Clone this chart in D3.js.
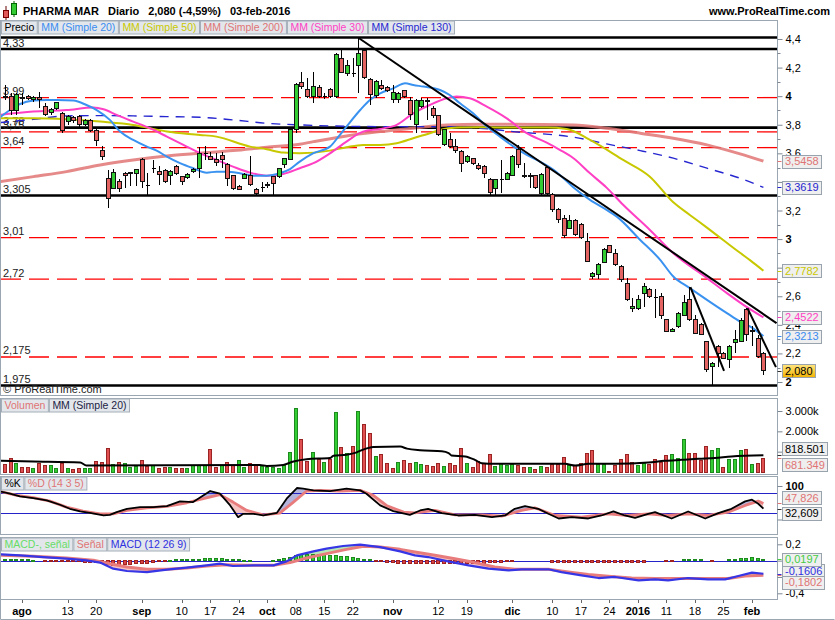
<!DOCTYPE html>
<html><head><meta charset="utf-8">
<script src="https://cdn.jsdelivr.net/npm/d3@7"></script>
<style>
html,body{margin:0;padding:0;background:#fff;}
svg{display:block;}
text{font-family:"Liberation Sans",Arial,sans-serif;}
</style></head>
<body><svg id="chart" width="835" height="620"></svg>
<script>
// ---------------- DATA ----------------
const tradingMonths = [
 ["jul",[29,30,31]],
 ["ago",[3,4,5,6,7,10,11,12,13,14,17,18,19,20,21,24,25,26,27,28,31]],
 ["sep",[1,2,3,4,7,8,9,10,11,14,15,16,17,18,21,22,23,24,25,28,29,30]],
 ["oct",[1,2,5,6,7,8,9,12,13,14,15,16,19,20,21,22,23,26,27,28,29,30]],
 ["nov",[2,3,4,5,6,9,10,11,12,13,16,17,18,19,20,23,24,25,26,27,30]],
 ["dic",[1,2,3,4,7,8,9,10,11,14,15,16,17,18,21,22,23,24,28,29,30,31]],
 ["ene",[4,5,6,7,8,11,12,13,14,15,18,19,20,21,22,25,26,27,28,29]],
 ["feb",[1,2,3]]
];
const days = tradingMonths.flatMap(([m, ds]) => ds.map(d => d + " " + m));

const tickDays   = ["3 ago","13 ago","20 ago","1 sep","10 sep","17 sep","24 sep","1 oct","8 oct","15 oct","22 oct","2 nov","12 nov","19 nov","1 dic","10 dic","17 dic","24 dic","4 ene","11 ene","18 ene","25 ene","1 feb"];
const tickLabels = ["ago","13","20","sep","10","17","24","oct","08","15","22","nov","12","19","dic","10","17","24","2016","11","18","25","feb"];

const open  = [3.99,4.00,3.90,3.99,4.00,3.98,3.99,3.93,3.885,3.915,3.88,3.82,3.85,3.86,3.80,3.83,3.76,3.62,3.426,3.356,3.40,3.46,3.46,3.46,3.554,3.38,3.50,3.47,3.48,3.445,3.51,3.437,3.43,3.47,3.496,3.605,3.58,3.554,3.584,3.52,3.444,3.367,3.426,3.444,3.35,3.367,3.38,3.437,3.437,3.52,3.56,3.766,4.097,4.048,3.996,4.06,4.00,4.05,4.00,4.265,4.16,4.165,4.214,4.32,4.118,4.008,4.078,4.062,3.98,3.974,4.038,3.973,3.80,3.93,3.97,3.915,3.864,3.66,3.694,3.647,3.61,3.54,3.566,3.518,3.51,3.42,3.356,3.42,3.42,3.442,3.63,3.444,3.44,3.444,3.32,3.50,3.31,3.204,3.146,3.076,3.13,3.10,2.983,2.74,2.75,2.836,2.955,2.90,2.81,2.69,2.512,2.512,2.62,2.65,2.594,2.598,2.435,2.353,2.388,2.465,2.575,2.44,2.40,2.283,2.108,2.248,2.20,2.155,2.276,2.283,2.505,2.35,2.307,2.20];
const high  = [4.08,4.02,4.02,4.02,4.01,4.00,4.03,3.95,3.92,3.96,3.89,3.87,3.86,3.87,3.84,3.84,3.77,3.65,3.48,3.49,3.42,3.47,3.47,3.49,3.57,3.46,3.55,3.51,3.49,3.48,3.52,3.44,3.46,3.50,3.647,3.65,3.61,3.60,3.61,3.53,3.45,3.38,3.46,3.58,3.36,3.40,3.40,3.44,3.50,3.57,3.78,4.09,4.167,4.125,4.167,4.08,4.02,4.06,4.30,4.323,4.25,4.265,4.405,4.33,4.13,4.11,4.113,4.07,4.078,4.03,4.04,3.997,3.98,3.99,3.99,3.93,3.87,3.77,3.743,3.70,3.62,3.59,3.57,3.53,3.52,3.43,3.42,3.554,3.47,3.59,3.659,3.53,3.46,3.45,3.46,3.51,3.32,3.22,3.17,3.17,3.14,3.11,3.04,2.77,2.83,2.94,2.96,2.93,2.82,2.727,2.587,2.61,2.69,2.66,2.65,2.62,2.44,2.38,2.49,2.61,2.664,2.47,2.41,2.29,2.14,2.26,2.21,2.26,2.365,2.451,2.517,2.39,2.33,2.21];
const low   = [3.97,3.87,3.87,3.94,3.97,3.96,3.92,3.86,3.87,3.90,3.74,3.80,3.81,3.77,3.79,3.75,3.65,3.55,3.22,3.35,3.33,3.36,3.37,3.37,3.36,3.30,3.46,3.38,3.39,3.38,3.45,3.38,3.42,3.46,3.426,3.55,3.55,3.51,3.50,3.37,3.34,3.34,3.42,3.37,3.31,3.33,3.36,3.31,3.43,3.50,3.55,3.74,4.05,3.99,3.955,3.99,3.98,3.99,3.99,4.16,4.14,4.136,4.02,4.12,3.938,3.99,4.04,4.03,3.95,3.95,3.99,3.834,3.74,3.92,3.834,3.85,3.72,3.65,3.64,3.60,3.472,3.53,3.52,3.48,3.43,3.31,3.31,3.32,3.41,3.44,3.50,3.426,3.356,3.35,3.31,3.31,3.19,3.11,3.01,3.07,3.02,3.00,2.84,2.72,2.72,2.83,2.90,2.81,2.70,2.57,2.493,2.505,2.528,2.59,2.447,2.44,2.35,2.35,2.38,2.46,2.43,2.34,2.33,2.073,1.98,2.108,2.16,2.097,2.20,2.28,2.29,2.25,2.17,2.05];
const close = [4.00,3.90,4.01,3.985,3.985,3.99,3.98,3.87,3.91,3.955,3.76,3.86,3.83,3.80,3.83,3.76,3.69,3.58,3.286,3.465,3.356,3.445,3.465,3.49,3.40,3.38,3.50,3.454,3.40,3.47,3.46,3.40,3.455,3.49,3.596,3.605,3.56,3.538,3.56,3.426,3.356,3.35,3.45,3.38,3.32,3.367,3.385,3.386,3.496,3.566,3.766,4.08,4.067,3.996,4.067,4.00,4.00,4.00,4.295,4.167,4.218,4.165,4.30,4.13,4.013,4.10,4.055,4.038,4.025,4.02,4.00,3.87,3.97,3.97,3.965,3.864,3.73,3.764,3.647,3.62,3.53,3.58,3.53,3.496,3.46,3.325,3.414,3.42,3.46,3.577,3.52,3.44,3.445,3.363,3.45,3.32,3.204,3.134,3.025,3.13,3.03,3.01,2.843,2.76,2.82,2.93,2.908,2.82,2.714,2.58,2.528,2.575,2.668,2.598,2.594,2.463,2.353,2.37,2.482,2.559,2.435,2.342,2.335,2.09,2.132,2.197,2.167,2.248,2.30,2.43,2.33,2.36,2.178,2.08];

// volume in thousands, and direction (1 = up / green)
const volume = [350,683,400,233,233,183,433,300,300,183,433,183,100,150,150,183,517,467,1133,350,467,433,217,267,567,267,300,183,233,233,150,150,150,300,300,300,1100,217,300,467,300,567,217,433,300,267,233,233,150,300,983,3133,1600,517,983,633,483,633,2933,1183,933,1267,2983,2317,1883,767,883,433,150,483,567,433,483,383,300,267,433,267,433,300,1150,433,217,517,400,850,267,400,300,350,300,217,217,100,267,217,350,350,717,300,300,400,933,1050,350,350,20,300,600,850,483,317,400,350,600,483,800,850,650,1600,900,933,567,1233,1050,1150,233,600,600,1050,1100,350,400,681.349];
const volumeUp = [0,0,1,0,0,1,0,0,1,1,0,1,0,0,1,1,0,0,0,1,0,1,1,1,0,0,1,0,0,1,0,0,1,1,1,1,0,0,1,0,0,1,1,0,0,1,1,1,1,1,1,1,0,0,1,0,1,0,1,0,1,0,1,0,0,1,0,0,0,1,0,0,1,1,0,0,0,1,0,0,0,1,0,0,0,0,1,1,1,1,0,0,1,0,1,0,0,0,0,1,0,0,0,0,1,1,0,0,0,0,0,1,1,0,0,0,0,1,1,1,0,0,0,0,1,1,0,1,1,1,0,1,0,0];
const volumeMA20 = [[-0.86,550],[5,517],[13.2,467],[14.3,317],[44.7,350],[45.9,300],[48.8,350],[50.6,517],[52.9,633],[57,683],[57.6,800],[59.9,850],[61.7,967],[62.8,1100],[64.6,1233],[69.3,1250],[70.5,1150],[72.8,1067],[76.6,1017],[77.8,933],[78.3,817],[80.7,767],[82.4,600],[83.6,433],[85.9,400],[98.2,400],[100,317],[102.3,400],[107,400],[112.8,467],[115.7,550],[118.7,600],[121.6,650],[124.5,683],[127.4,767],[133,818.501]];

// moving averages, read as [trading-day index, price]
const ma20  = [[-0.86,3.852],[0.89,3.903],[2.65,3.945],[5,3.969],[7.3,3.973],[9.1,3.973],[12,3.969],[14.3,3.938],[16.1,3.903],[18.4,3.834],[20.2,3.752],[22.5,3.694],[24.9,3.647],[26.6,3.619],[28.4,3.577],[30.7,3.531],[33,3.496],[35.4,3.465],[37.1,3.472],[38.9,3.472],[41.2,3.461],[43.6,3.444],[45.9,3.444],[48.2,3.461],[50,3.49],[51.7,3.542],[54.1,3.601],[57,3.647],[58.5,3.717],[59.9,3.787],[62.3,3.903],[64,3.973],[65.8,4.02],[68.1,4.055],[70.2,4.09],[71.6,4.078],[73.4,4.067],[76.3,4.043],[78,4.008],[79.8,3.95],[82.1,3.88],[84.5,3.787],[86.8,3.717],[89.2,3.647],[91.5,3.589],[93.8,3.542],[96.2,3.484],[97.3,3.449],[99.6,3.365],[102.6,3.274],[105.5,3.204],[107.3,3.157],[111.4,2.994],[114.9,2.855],[117.2,2.738],[120.1,2.657],[123.1,2.575],[126.6,2.482],[128.9,2.423],[130.7,2.388],[133,2.3213]];
const ma30  = [[-0.86,3.869],[4.98,3.892],[10.8,3.903],[15.5,3.92],[17.3,3.908],[19.6,3.869],[22.5,3.822],[25.4,3.776],[28.4,3.717],[31.3,3.659],[34.2,3.601],[37.1,3.554],[40,3.507],[43,3.465],[45.9,3.444],[48.8,3.456],[51.7,3.496],[54.1,3.531],[57,3.6],[59.9,3.682],[62.8,3.752],[65.8,3.771],[68.7,3.799],[71.6,3.88],[74.5,3.938],[77.5,3.985],[79.2,3.997],[81.5,3.985],[84.5,3.927],[88,3.845],[91.5,3.741],[95,3.675],[97.3,3.625],[99.7,3.566],[102.6,3.46],[105.5,3.36],[108.4,3.24],[113.1,3.064],[117.2,2.901],[123.1,2.727],[126.6,2.622],[129.5,2.54],[133,2.4522]];
const ma50  = [[-0.86,3.845],[5,3.845],[10.8,3.838],[16.7,3.822],[22.5,3.799],[25.4,3.776],[28.4,3.752],[34.2,3.729],[37.1,3.717],[43,3.647],[45.9,3.629],[48.8,3.605],[51.7,3.601],[57,3.619],[59.9,3.643],[62.8,3.659],[65.8,3.659],[68.7,3.671],[71.6,3.706],[74.5,3.741],[76.3,3.764],[79.8,3.78],[83.3,3.783],[89.1,3.78],[95,3.78],[98.5,3.771],[102.6,3.694],[108.4,3.554],[113.1,3.437],[117.2,3.257],[120.1,3.169],[123.1,3.08],[126,2.992],[128.9,2.904],[130.7,2.851],[133,2.7782]];
const ma130 = [[-0.86,3.815],[5,3.838],[10.8,3.862],[16.7,3.864],[22.5,3.862],[28.4,3.857],[34.2,3.852],[40,3.834],[45.9,3.81],[51.7,3.799],[65.8,3.787],[74.5,3.787],[83.3,3.776],[89.1,3.752],[99.7,3.713],[105.5,3.666],[111.4,3.619],[117.2,3.566],[123.1,3.496],[128.9,3.426],[133,3.3619]];
const ma200 = [[-0.86,3.402],[5,3.437],[10.8,3.472],[16.7,3.519],[22.5,3.554],[28.4,3.582],[34.2,3.601],[40,3.619],[45.9,3.643],[51.7,3.664],[54.1,3.682],[59.9,3.722],[65.8,3.752],[71.6,3.776],[77.5,3.799],[83.3,3.804],[89.1,3.804],[99.7,3.799],[105.5,3.776],[111.4,3.741],[117.2,3.706],[123.1,3.659],[128.9,3.596],[133,3.5458]];

// horizontal levels and trend lines drawn on the price chart
const blackLevels = [4.41, 4.33, 3.78, 3.305, 1.975];
const blackLevelLabels = ["", "4,33", "3,78", "3,305", "1,975"];
const redLevels = [3.99, 3.75, 3.64, 3.01, 2.72, 2.175];
const redLevelLabels = ["3,99", "3,75", "3,64", "3,01", "2,72", "2,175"];
const trendLines = [[[62.1,4.405],[135.3,2.412]], [[120.2,2.664],[126.1,2.078]], [[130.2,2.517],[135.2,2.104]]];

// stochastic %K / %D
const stochK = [[-0.86,84],[0.89,77],[2.65,69],[4.98,64],[7.33,57],[9.66,44],[11.4,32],[13.2,24],[14.9,20],[17.3,12],[18.4,14],[19.6,22],[21.4,32],[23.7,37],[26,37],[28.4,40],[30.7,54],[33,52],[36,85],[37.7,77],[39.5,42],[40.9,7],[41.8,17],[43.6,17],[45.3,12],[47.7,20],[49.4,62],[51.2,94],[52.3,92],[54.1,87],[57,85],[59.9,92],[62.3,87],[63.4,77],[65.8,42],[68.1,25],[71,14],[72.8,27],[74.2,32],[76.6,19],[79.5,12],[82.4,14],[85.4,7],[87.7,12],[89.4,32],[91.2,40],[93.5,32],[95.3,17],[97.1,3],[99.4,7],[102.3,3],[104.6,12],[106.7,24],[108.7,12],[110.5,5],[112.8,17],[114,22],[116.9,3],[119.8,24],[122.8,3],[125.1,19],[127.4,32],[129.8,54],[131,59],[132.1,47],[133,32.609]];
const stochD = [[-0.86,84],[2.07,72],[4.98,65],[7.9,55],[10.8,37],[13.7,25],[16.7,17],[19,17],[21.4,27],[24.9,35],[28.4,39],[31.9,50],[34.8,62],[37.7,74],[40,52],[42.4,27],[45.3,14],[48.2,19],[50.6,52],[52.9,85],[55.3,87],[58.8,85],[62.3,87],[64.6,72],[66.9,42],[69.9,22],[71.9,20],[75.4,27],[78.9,14],[83.6,14],[87.1,10],[90.6,27],[92.9,35],[96.5,12],[101.1,7],[105.8,17],[109.3,12],[112.8,17],[116.3,12],[119.8,17],[123.3,12],[126.8,22],[129.8,42],[132.1,55],[133,47.826]];

// MACD (12 26 9)
const macdLine = [[-0.86,0.077],[2.65,0.065],[6.73,0.044],[10.8,0.024],[14.3,0.004],[16.7,-0.024],[19,-0.098],[21.4,-0.127],[24.9,-0.14],[28.4,-0.11],[31.9,-0.085],[35.4,-0.058],[37.7,-0.037],[40,-0.066],[43.6,-0.058],[47.1,-0.058],[49.4,-0.009],[51.2,0.065],[54.1,0.114],[56.4,0.147],[59.3,0.179],[62.3,0.196],[65.8,0.166],[69.3,0.114],[71.9,0.065],[74.2,0.044],[77.7,-0.009],[81.3,-0.058],[84.8,-0.098],[88.3,-0.119],[90.6,-0.106],[95.3,-0.106],[97.6,-0.14],[101.1,-0.18],[104.1,-0.213],[107,-0.2],[111.1,-0.241],[114,-0.229],[116.3,-0.241],[119.8,-0.213],[123.3,-0.229],[126.3,-0.229],[128.6,-0.188],[131,-0.147],[133,-0.1606]];
const signalLine = [[-0.86,0.065],[4.98,0.053],[10.8,0.032],[15.5,0.004],[18.4,-0.037],[21.4,-0.078],[24.9,-0.106],[28.4,-0.106],[31.9,-0.09],[35.4,-0.066],[38.9,-0.049],[42.4,-0.058],[47.1,-0.058],[50,-0.024],[52.9,0.032],[56.4,0.086],[59.9,0.138],[62.9,0.175],[65.8,0.166],[69.3,0.138],[71.9,0.105],[75.4,0.065],[78.9,0.024],[82.4,-0.024],[85.9,-0.078],[89.4,-0.106],[95.3,-0.106],[98.8,-0.14],[102.3,-0.171],[105.8,-0.192],[109.9,-0.213],[114,-0.22],[118.7,-0.22],[123.3,-0.22],[126.8,-0.22],[129.8,-0.188],[133,-0.1802]];
const macdHist = [0.02,0.02,0.02,0.015,0.008,0.004,0,-0.008,-0.01,-0.012,-0.014,-0.015,-0.016,-0.016,-0.018,-0.02,-0.022,-0.03,-0.05,-0.06,-0.06,-0.05,-0.045,-0.04,-0.035,-0.03,-0.02,-0.01,-0.004,0.002,0.008,0.012,0.014,0.016,0.02,0.025,0.03,0.03,0.025,0.018,0.012,0.008,0.004,0.002,0,0,0,0.004,0.012,0.024,0.04,0.06,0.07,0.08,0.08,0.075,0.07,0.062,0.06,0.055,0.05,0.04,0.032,0.02,0.012,-0.008,-0.012,-0.02,-0.025,-0.03,-0.033,-0.033,-0.033,-0.033,-0.035,-0.037,-0.038,-0.04,-0.04,-0.04,-0.04,-0.037,-0.036,-0.035,-0.033,-0.028,-0.025,-0.02,-0.012,-0.008,0,0,0,0,0,0,-0.02,-0.02,-0.02,-0.02,-0.02,-0.028,-0.028,-0.028,-0.028,-0.028,-0.028,-0.028,-0.028,-0.02,-0.02,-0.02,-0.02,0,0,0,-0.015,-0.015,0,0.012,0.012,0.012,0.012,0,-0.012,0,0,0.012,0.016,0.024,0.028,0.033,0.025,0.0197];

// ---------------- CHART ----------------
const svg = d3.select("#chart");
const defs = svg.append("defs");
const L = 0.5, R = 777.5;
const panels = { price:[20.5,395.5], vol:[398.5,474.5], sto:[476.5,534.5], macd:[537.5,599.5] };

const xS = d3.scaleLinear().domain([0, days.length-1]).range([4.9, 763.4]);
const yP = d3.scaleLinear().domain([2, 4.4]).range([382, 39]);
const yV = d3.scaleLinear().domain([0, 3000]).range([472, 411]);
const yS = d3.scaleLinear().domain([0, 100]).range([519.5, 486]);
const yM = d3.scaleLinear().domain([-0.4, 0.2]).range([593.3, 544.3]);

const comma = (v, d) => v.toFixed(d).replace(".", ",");

function makeClip(id, [t, b]) {
  defs.append("clipPath").attr("id", id).append("rect")
    .attr("x", L+0.5).attr("y", t+0.5).attr("width", R-L-1).attr("height", b-t-1);
  return `url(#${id})`;
}
const grad = defs.append("linearGradient").attr("id","gold").attr("x1",0).attr("y1",0).attr("x2",0).attr("y2",1);
grad.append("stop").attr("offset","0").attr("stop-color","#ffe680");
grad.append("stop").attr("offset","1").attr("stop-color","#f2b200");

// panel frames
Object.values(panels).forEach(([t,b]) => {
  svg.append("rect").attr("x",L).attr("y",t).attr("width",R-L).attr("height",b-t)
    .attr("fill","#fff").attr("stroke","#9aa6b2").attr("stroke-width",1);
});
svg.append("line").attr("x1",0.5).attr("x2",0.5).attr("y1",599.5).attr("y2",619.5).attr("stroke","#9aa6b2");
svg.append("line").attr("x1",0.5).attr("x2",834.5).attr("y1",619.5).attr("y2",619.5).attr("stroke","#9aa6b2");

// ---------- title ----------
svg.append("line").attr("x1",6).attr("x2",6).attr("y1",6).attr("y2",20).attr("stroke","#600");
svg.append("rect").attr("x",3.5).attr("y",10.5).attr("width",5).attr("height",7).attr("fill","#e05a5a").attr("stroke","#700");
svg.append("line").attr("x1",14).attr("x2",14).attr("y1",1).attr("y2",17).attr("stroke","#060");
svg.append("rect").attr("x",11.5).attr("y",3.5).attr("width",5).attr("height",11).attr("fill","#33cc33").attr("stroke","#060");
let tx0 = 23;
["PHARMA MAR","Diario","2,080 (-4,59%)","03-feb-2016"].forEach(t => {
  const el = svg.append("text").attr("x",tx0).attr("y",15).text(t)
    .style("font-size","11px").style("font-weight","bold").attr("fill","#000");
  tx0 += el.node().getComputedTextLength() + 9;
});
svg.append("text").attr("x",830).attr("y",15).attr("text-anchor","end").text("www.ProRealTime.com")
  .style("font-size","11px").style("font-weight","bold").attr("fill","#000");

// ---------- legends ----------
function legend(y, items) {
  let x = 1.5;
  items.forEach(([t,c]) => {
    const g = svg.append("g");
    const el = g.append("text").attr("x", x+3).attr("y", y+10).text(t).attr("fill", c).style("font-size","10.5px");
    const w = el.node().getComputedTextLength() + 6;
    g.insert("rect","text").attr("x",x).attr("y",y).attr("width",w).attr("height",13)
      .attr("fill","#e3e7ec").attr("stroke","#a4aeb8");
    x += w + 1;
  });
}

// ---------- PRICE PANEL ----------
const gP = svg.append("g").attr("clip-path", makeClip("clipP", panels.price));
redLevels.forEach(v => gP.append("line").attr("x1",1).attr("x2",R).attr("y1",yP(v)).attr("y2",yP(v))
  .attr("stroke","#ff0000").attr("stroke-width",1.3).attr("stroke-dasharray","20,8"));
blackLevels.forEach(v => gP.append("line").attr("x1",1).attr("x2",R).attr("y1",yP(v)).attr("y2",yP(v))
  .attr("stroke","#000").attr("stroke-width",2.6));
const levelLabels = blackLevels.map((v,i)=>[v,blackLevelLabels[i]]).concat(redLevels.map((v,i)=>[v,redLevelLabels[i]]));
levelLabels.filter(d=>d[1]).forEach(([v,t]) => gP.append("text").attr("x",3).attr("y",yP(v)-2.5).text(t)
  .style("font-size","11px").attr("fill","#222"));

const maLine = d3.line().x(d=>xS(d[0])).y(d=>yP(d[1])).curve(d3.curveMonotoneX);
const maDefs = [
  [ma200, "#e07474", 3.0, null, 0.85],
  [ma130, "#2626d0", 1.4, "9,7", 1],
  [ma50,  "#c8c800", 2.0, null, 1],
  [ma30,  "#ff3fc4", 2.0, null, 1],
  [ma20,  "#3a92f0", 2.0, null, 1]
];
maDefs.forEach(([pts,c,w,dash,op]) => {
  const p = gP.append("path").attr("d", maLine(pts)).attr("fill","none").attr("stroke",c)
    .attr("stroke-width",w).attr("stroke-opacity",op).attr("stroke-linejoin","round");
  if (dash) p.attr("stroke-dasharray", dash);
});

const candles = days.map((d,i)=>({i, o:open[i], h:high[i], l:low[i], c:close[i]}));
const gCand = gP.append("g").attr("shape-rendering","crispEdges");
gCand.selectAll("line").data(candles).join("line")
  .attr("x1",d=>Math.round(xS(d.i))+0.5).attr("x2",d=>Math.round(xS(d.i))+0.5)
  .attr("y1",d=>yP(d.h)).attr("y2",d=>yP(d.l)).attr("stroke","#000");
gCand.selectAll("rect").data(candles).join("rect")
  .attr("x",d=>Math.round(xS(d.i))-1.5).attr("width",4)
  .attr("y",d=>yP(Math.max(d.o,d.c)))
  .attr("height",d=>Math.max(1, Math.abs(yP(d.o)-yP(d.c))))
  .attr("fill",d=> d.c>d.o ? "#33cc33" : (d.c<d.o ? "#e46464" : "#000"))
  .attr("stroke",d=> d.c===d.o ? "none" : "#111").attr("stroke-width",1);

trendLines.forEach(seg => gP.append("line")
  .attr("x1",xS(seg[0][0])).attr("y1",yP(seg[0][1])).attr("x2",xS(seg[1][0])).attr("y2",yP(seg[1][1]))
  .attr("stroke","#000").attr("stroke-width",2));

svg.append("text").attr("x",3).attr("y",393).text("© ProRealTime.com").style("font-size","11px").attr("fill","#222");

// ---------- VOLUME PANEL ----------
const gV = svg.append("g").attr("clip-path", makeClip("clipV", panels.vol));
const volBars = volume.map((v,i)=>({i, v, up: volumeUp[i]}));
gV.append("g").attr("shape-rendering","crispEdges").selectAll("rect").data(volBars).join("rect")
  .attr("x",d=>Math.round(xS(d.i))-1.5).attr("width",3)
  .attr("y",d=>yV(d.v)).attr("height",d=>Math.max(1, yV(0)-yV(d.v)))
  .attr("fill",d=>d.up ? "#33cc33" : "#e05050")
  .attr("stroke",d=>d.up ? "#1c8a1c" : "#9a2424");
gV.append("path").attr("d", d3.line().x(d=>xS(d[0])).y(d=>yV(d[1])).curve(d3.curveMonotoneX)(volumeMA20))
  .attr("fill","none").attr("stroke","#000").attr("stroke-width",2);

// ---------- fills between two lines ----------
function diffFill(g, a, b, yScale, top, bottom, colA, colB, id) {
  const ln = d3.line().x(d=>xS(d[0])).y(d=>yScale(d[1]));
  const poly = ln(a) + ln(b.slice().reverse()).replace(/^M/,"L") + "Z";
  const above = d3.area().x(d=>xS(d[0])).y0(top).y1(d=>yScale(d[1]));
  const below = d3.area().x(d=>xS(d[0])).y0(bottom).y1(d=>yScale(d[1]));
  defs.append("clipPath").attr("id",id+"a").append("path").attr("d", above(b));
  defs.append("clipPath").attr("id",id+"b").append("path").attr("d", below(b));
  g.append("g").attr("clip-path",`url(#${id}a)`).append("path").attr("d",poly).attr("fill",colA);
  g.append("g").attr("clip-path",`url(#${id}b)`).append("path").attr("d",poly).attr("fill",colB);
}

// ---------- STOCHASTIC PANEL ----------
const gS = svg.append("g").attr("clip-path", makeClip("clipS", panels.sto));
diffFill(gS, stochK, stochD, yS, panels.sto[0], panels.sto[1], "#b3b3dc", "#f5c2c2", "sf");
[80,20].forEach(v => gS.append("line").attr("x1",1).attr("x2",R).attr("y1",Math.round(yS(v))+0.5).attr("y2",Math.round(yS(v))+0.5)
  .attr("stroke","#2323c8").attr("stroke-width",1));
const sLine = d3.line().x(d=>xS(d[0])).y(d=>yS(d[1]));
gS.append("path").attr("d", sLine(stochD)).attr("fill","none").attr("stroke","#e87c7c").attr("stroke-width",2.8).attr("stroke-linejoin","round");
gS.append("path").attr("d", sLine(stochK)).attr("fill","none").attr("stroke","#000").attr("stroke-width",1.8).attr("stroke-linejoin","round");

// ---------- MACD PANEL ----------
const gM = svg.append("g").attr("clip-path", makeClip("clipM", panels.macd));
diffFill(gM, macdLine, signalLine, yM, panels.macd[0], panels.macd[1], "#b5e8b5", "#f5c2c2", "mf");
gM.append("line").attr("x1",1).attr("x2",R).attr("y1",Math.round(yM(0))+0.5).attr("y2",Math.round(yM(0))+0.5)
  .attr("stroke","#2323c8").attr("stroke-width",1);
const histBars = macdHist.map((v,i)=>({i, v})).filter(d => d.v !== 0);
gM.append("g").attr("shape-rendering","crispEdges").selectAll("rect").data(histBars).join("rect")
  .attr("x",d=>Math.round(xS(d.i))-1.5).attr("width",3)
  .attr("y",d=>Math.min(yM(0),yM(d.v))).attr("height",d=>Math.max(1,Math.abs(yM(d.v)-yM(0))))
  .attr("fill",d=>d.v>0 ? "#33cc33" : "#d84444").attr("stroke",d=>d.v>0 ? "#1c8a1c" : "#a02020");
const mLine = d3.line().x(d=>xS(d[0])).y(d=>yM(d[1]));
gM.append("path").attr("d", mLine(signalLine)).attr("fill","none").attr("stroke","#e87c7c").attr("stroke-width",3).attr("stroke-linejoin","round");
gM.append("path").attr("d", mLine(macdLine)).attr("fill","none").attr("stroke","#3636e6").attr("stroke-width",2.2).attr("stroke-linejoin","round");

// ---------- legends ----------
legend(21, [["Precio","#000"],["MM (Simple 20)","#3a8cf0"],["MM (Simple 50)","#c8c800"],["MM (Simple 200)","#e07474"],["MM (Simple 30)","#ff3fc4"],["MM (Simple 130)","#2626d0"]]);
legend(399, [["Volumen","#e07474"],["MM (Simple 20)","#222244"]]);
legend(477, [["%K","#000"],["%D (14 3 5)","#e07474"]]);
legend(538, [["MACD-, señal","#66dd66"],["Señal","#e07474"],["MACD (12 26 9)","#3030e0"]]);

// ---------- value boxes (computed first so hidden axis labels can be skipped) ----------
const boxes = [
  [yP(3.5458), yP(3.5458), "3,5458", "#e07474"],
  [yP(3.3619), yP(3.3619), "3,3619", "#2626d0"],
  [yP(2.7782), yP(2.7782), "2,7782", "#c8c800"],
  [yP(2.4522), yP(2.4522), "2,4522", "#ff3fc4"],
  [yP(2.3213), yP(2.3213), "2,3213", "#3a8cf0"],
  [yP(2.080),  yP(2.080),  "2,080",  "#000", "url(#gold)"],
  [yV(818.501), yV(818.501)-6.5, "818.501", "#000"],
  [yV(681.349), yV(681.349)+6.5, "681.349", "#e07474"],
  [yS(47.826), yS(47.826)-5.5, "47,826", "#e07474"],
  [yS(32.609), yS(32.609)+4.5, "32,609", "#000"],
  [yM(-0.1606), yM(-0.1606)-3, "-0,1606", "#3030e0"],
  [yM(0.0197), yM(0.0197), "0,0197", "#44cc44"],
  [yM(-0.1802), yM(-0.1802)+7, "-0,1802", "#e07474"]
];
const covered = y => boxes.some(b => y > b[1]-7 && y < b[1]+7);

// ---------- right axes ----------
function rightAxis(scale, majors, minors, fmt, boldFn, top, bottom) {
  svg.append("line").attr("x1",R).attr("x2",R).attr("y1",top).attr("y2",bottom).attr("stroke","#9aa6b2");
  const g = svg.append("g").attr("transform",`translate(${R},0)`)
    .call(d3.axisRight(scale).tickValues(majors).tickSize(5).tickPadding(3).tickFormat(fmt));
  g.select(".domain").remove();
  g.selectAll(".tick line").attr("stroke","#7d8893");
  g.selectAll(".tick text").style("font-size","11px").style("font-family",'"Liberation Sans",Arial,sans-serif')
    .attr("fill","#000").style("font-weight", d => boldFn(d) ? "bold" : "normal")
    .filter(d => covered(scale(d))).remove();
  if (minors) {
    svg.append("g").selectAll("line").data(minors).join("line")
      .attr("x1",R).attr("x2",R+3).attr("y1",d=>Math.round(scale(d))+0.5).attr("y2",d=>Math.round(scale(d))+0.5).attr("stroke","#7d8893");
  }
}
const pMaj = d3.range(2, 4.41, 0.2).map(v=>+v.toFixed(1));
const pMin = d3.range(2.1, 4.4, 0.2).map(v=>+v.toFixed(1));
rightAxis(yP, pMaj, pMin, v => Number.isInteger(v) ? String(v) : comma(v,1), v => Number.isInteger(v), panels.price[0], panels.price[1]);
rightAxis(yV, [1000,2000,3000], null, v => (v/1000)+".000k", () => false, panels.vol[0], panels.vol[1]);
rightAxis(yS, [0,100], null, v => String(v), v => v===100, panels.sto[0], panels.sto[1]);
rightAxis(yM, [-0.4,-0.2,0,0.2], null, v => v===0 ? "0" : comma(v,1), () => false, panels.macd[0], panels.macd[1]);

function valueBox(valueY, boxY, txt, color, bg) {
  svg.append("line").attr("x1",R).attr("x2",R+4).attr("y1",Math.round(valueY)+0.5).attr("y2",Math.round(valueY)+0.5)
    .attr("stroke",color === "#000" ? "#333" : color).attr("stroke-width",1);
  const g = svg.append("g");
  const el = g.append("text").attr("x",785).attr("y",boxY+4).text(txt).attr("fill",color).style("font-size","11px");
  const w = el.node().getComputedTextLength() + 5;
  g.insert("rect","text").attr("x",782.5).attr("y",Math.round(boxY-6.5)+0.5).attr("width",Math.round(w)).attr("height",13)
    .attr("fill", bg || "#efefef").attr("stroke","#98a3ae");
}
boxes.forEach(b => valueBox(...b));

// ---------- x axis ----------
const tickIdx = tickDays.map(k => days.indexOf(k));
svg.append("g").selectAll("line").data(tickIdx).join("line")
  .attr("x1",i=>Math.round(xS(i))+0.5).attr("x2",i=>Math.round(xS(i))+0.5).attr("y1",600).attr("y2",603).attr("stroke","#666");
svg.append("g").selectAll("text").data(tickLabels).join("text")
  .attr("x",(d,k)=>xS(tickIdx[k])).attr("y",614.5).attr("text-anchor","middle").text(d=>d)
  .style("font-size","11px").style("font-weight",d => /^\d\d?$/.test(d) ? "normal" : "bold").attr("fill","#000");
</script></body></html>
